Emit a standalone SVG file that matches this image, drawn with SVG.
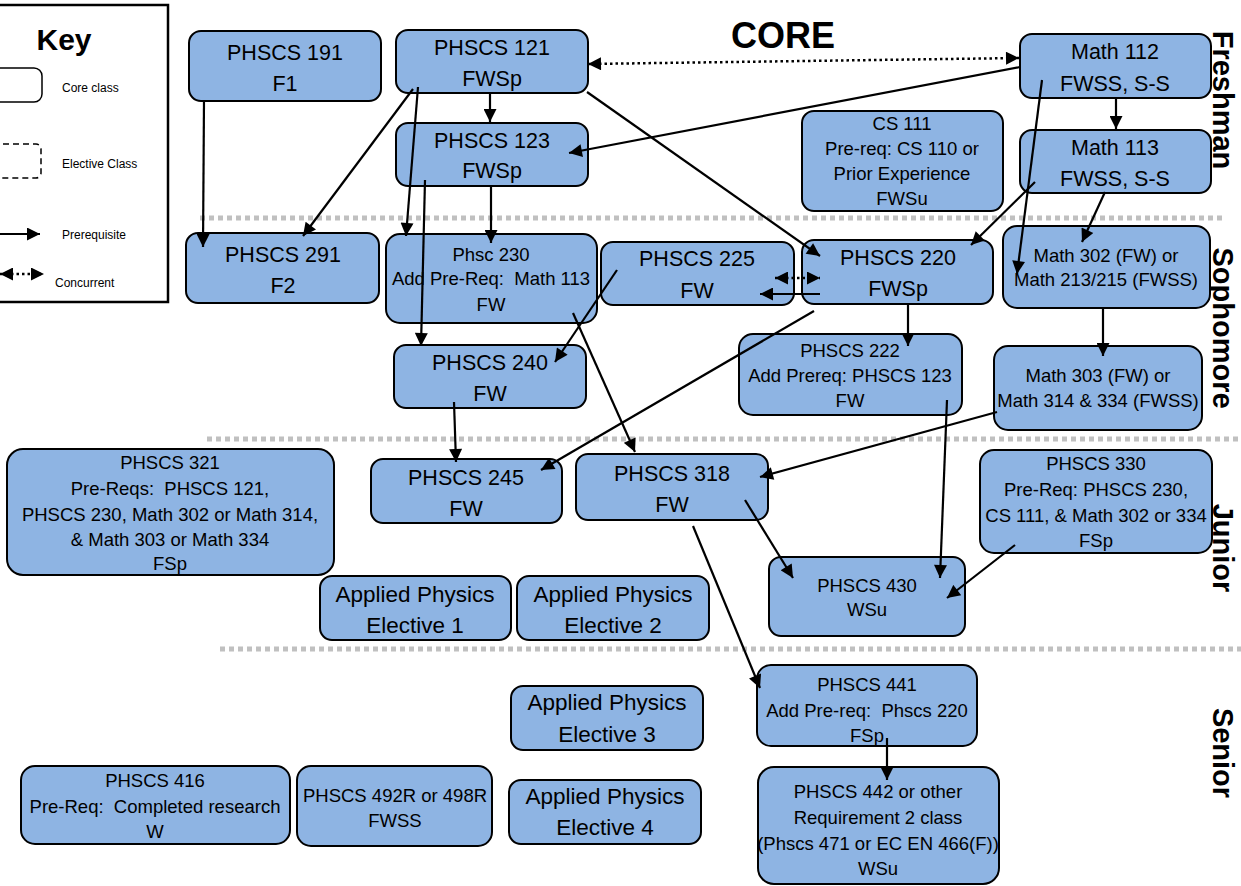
<svg xmlns="http://www.w3.org/2000/svg" width="1241" height="886" viewBox="0 0 1241 886">
<style>
.n rect{fill:#8eb4e3;stroke:#000;stroke-width:2}
text{font-family:"Liberation Sans",Arial,sans-serif;fill:#000}
.n text{text-anchor:middle}
.b{font-size:21.5px}
.ap{font-size:22.5px}
.s{font-size:18.5px}
.sep{stroke:#c0c0c0;stroke-width:5;stroke-dasharray:5 4;fill:none}
.c line{stroke:#000;stroke-width:2.2;fill:none}
.c .d{stroke-dasharray:2.5 3;stroke-width:2.5}
.side{font-size:29px;font-weight:bold;text-anchor:middle}
</style>
<defs>
<marker id="a" viewBox="0 0 10 10" refX="10" refY="5" markerWidth="15" markerHeight="13" markerUnits="userSpaceOnUse" orient="auto-start-reverse">
<path d="M0,0 L10,5 L0,10 z" fill="#000"/>
</marker>
</defs>
<rect width="1241" height="886" fill="#fff"/>

<g id="key">
<rect x="-2" y="5" width="170" height="297" fill="#fff" stroke="#000" stroke-width="2.5"/>
<text x="64" y="50" font-size="30" font-weight="bold" text-anchor="middle">Key</text>
<rect x="-12" y="68" width="54" height="34" rx="8" fill="none" stroke="#000" stroke-width="1.5"/>
<text x="62" y="92" font-size="12">Core class</text>
<rect x="-12" y="144" width="53" height="34" rx="5" fill="none" stroke="#000" stroke-width="1.5" stroke-dasharray="6 4"/>
<text x="62" y="168" font-size="12">Elective Class</text>
<line x1="0" y1="234" x2="40" y2="234" stroke="#000" stroke-width="2" marker-end="url(#a)"/>
<text x="62" y="239" font-size="12">Prerequisite</text>
<line x1="0" y1="274" x2="44" y2="274" stroke="#000" stroke-width="2.5" stroke-dasharray="2.5 3" marker-start="url(#a)" marker-end="url(#a)"/>
<text x="55" y="287" font-size="12">Concurrent</text>
</g>

<g id="titles">
<text x="783" y="48" font-size="36" font-weight="bold" text-anchor="middle">CORE</text>
<text class="side" transform="translate(1213,100) rotate(90)">Freshman</text>
<text class="side" transform="translate(1213,328) rotate(90)">Sophomore</text>
<text class="side" transform="translate(1213,548) rotate(90)">Junior</text>
<text class="side" transform="translate(1213,753) rotate(90)">Senior</text>
</g>

<g id="separators">
<line class="sep" x1="200" y1="218" x2="1226" y2="218"/>
<line class="sep" x1="207" y1="439" x2="1241" y2="439"/>
<line class="sep" x1="220" y1="649" x2="1241" y2="649"/>
</g>

<g id="n191" class="n"><rect x="189" y="31" width="192" height="70" rx="12"/><text class="b" x="285" y="60">PHSCS 191</text><text class="b" x="285" y="91">F1</text></g>
<g id="n121" class="n"><rect x="396" y="30" width="192" height="63" rx="12"/><text class="b" x="492" y="55">PHSCS 121</text><text class="b" x="492" y="86">FWSp</text></g>
<g id="n123" class="n"><rect x="396" y="123" width="192" height="63" rx="12"/><text class="b" x="492" y="148">PHSCS 123</text><text class="b" x="492" y="178">FWSp</text></g>
<g id="m112" class="n"><rect x="1020" y="34" width="191" height="64" rx="12"/><text class="b" x="1115" y="59">Math 112</text><text class="b" x="1115" y="91">FWSS, S-S</text></g>
<g id="m113" class="n"><rect x="1020" y="130" width="191" height="63" rx="12"/><text class="b" x="1115" y="155">Math 113</text><text class="b" x="1115" y="186">FWSS, S-S</text></g>
<g id="cs111" class="n"><rect x="802" y="111" width="201" height="100" rx="12"/><text class="s" x="902" y="130">CS 111</text><text class="s" x="902" y="155">Pre-req: CS 110 or</text><text class="s" x="902" y="180">Prior Experience</text><text class="s" x="902" y="205">FWSu</text></g>
<g id="n291" class="n"><rect x="186" y="233" width="193" height="70" rx="12"/><text class="b" x="283" y="262">PHSCS 291</text><text class="b" x="283" y="293">F2</text></g>
<g id="n230" class="n"><rect x="386" y="234" width="211" height="89" rx="14"/><text class="s" x="491" y="261">Phsc 230</text><text class="s" x="491" y="285">Add Pre-Req: &#160;Math 113</text><text class="s" x="491" y="311">FW</text></g>
<g id="n225" class="n"><rect x="601" y="242" width="193" height="63" rx="12"/><text class="b" x="697" y="266">PHSCS 225</text><text class="b" x="697" y="298">FW</text></g>
<g id="n220" class="n"><rect x="802" y="240" width="191" height="64" rx="12"/><text class="b" x="898" y="265">PHSCS 220</text><text class="b" x="898" y="296">FWSp</text></g>
<g id="m302" class="n"><rect x="1003" y="226" width="207" height="82" rx="14"/><text class="s" x="1106" y="262">Math 302 (FW) or</text><text class="s" x="1106" y="286">Math 213/215 (FWSS)</text></g>
<g id="n240" class="n"><rect x="394" y="345" width="192" height="63" rx="12"/><text class="b" x="490" y="370">PHSCS 240</text><text class="b" x="490" y="401">FW</text></g>
<g id="n222" class="n"><rect x="739" y="334" width="223" height="81" rx="14"/><text class="s" x="850" y="357">PHSCS 222</text><text class="s" x="850" y="382">Add Prereq: PHSCS 123</text><text class="s" x="850" y="407">FW</text></g>
<g id="m303" class="n"><rect x="994" y="346" width="208" height="84" rx="14"/><text class="s" x="1098" y="382">Math 303 (FW) or</text><text class="s" x="1098" y="407">Math 314 &amp; 334 (FWSS)</text></g>
<g id="n321" class="n"><rect x="7" y="449" width="327" height="126" rx="16"/><text class="s" x="170" y="469">PHSCS 321</text><text class="s" x="170" y="495">Pre-Reqs: &#160;PHSCS 121,</text><text class="s" x="170" y="521">PHSCS 230, Math 302 or Math 314,</text><text class="s" x="170" y="546">&amp; Math 303 or Math 334</text><text class="s" x="170" y="570">FSp</text></g>
<g id="n245" class="n"><rect x="371" y="459" width="191" height="64" rx="12"/><text class="b" x="466" y="485">PHSCS 245</text><text class="b" x="466" y="516">FW</text></g>
<g id="n318" class="n"><rect x="576" y="454" width="192" height="66" rx="12"/><text class="b" x="672" y="481">PHSCS 318</text><text class="b" x="672" y="512">FW</text></g>
<g id="n330" class="n"><rect x="980" y="450" width="232" height="103" rx="14"/><text class="s" x="1096" y="470">PHSCS 330</text><text class="s" x="1096" y="496">Pre-Req: PHSCS 230,</text><text class="s" x="1096" y="522">CS 111, &amp; Math 302 or 334</text><text class="s" x="1096" y="547">FSp</text></g>
<g id="n430" class="n"><rect x="769" y="557" width="196" height="79" rx="12"/><text class="s" x="867" y="592">PHSCS 430</text><text class="s" x="867" y="616">WSu</text></g>
<g id="ap1" class="n"><rect x="320" y="576" width="191" height="64" rx="12"/><text class="ap" x="415" y="602">Applied Physics</text><text class="ap" x="415" y="633">Elective 1</text></g>
<g id="ap2" class="n"><rect x="517" y="576" width="192" height="64" rx="12"/><text class="ap" x="613" y="602">Applied Physics</text><text class="ap" x="613" y="633">Elective 2</text></g>
<g id="ap3" class="n"><rect x="511" y="686" width="192" height="64" rx="12"/><text class="ap" x="607" y="710">Applied Physics</text><text class="ap" x="607" y="742">Elective 3</text></g>
<g id="ap4" class="n"><rect x="509" y="780" width="192" height="64" rx="12"/><text class="ap" x="605" y="804">Applied Physics</text><text class="ap" x="605" y="835">Elective 4</text></g>
<g id="n441" class="n"><rect x="757" y="665" width="220" height="81" rx="14"/><text class="s" x="867" y="691">PHSCS 441</text><text class="s" x="867" y="717">Add Pre-req: &#160;Phscs 220</text><text class="s" x="867" y="742">FSp</text></g>
<g id="n442" class="n"><rect x="758" y="767" width="241" height="117" rx="16"/><text class="s" x="878" y="798">PHSCS 442 or other</text><text class="s" x="878" y="824">Requirement 2 class</text><text class="s" x="878" y="850">(Phscs 471 or EC EN 466(F))</text><text class="s" x="878" y="875">WSu</text></g>
<g id="n416" class="n"><rect x="21" y="766" width="269" height="78" rx="14"/><text class="s" x="155" y="787">PHSCS 416</text><text class="s" x="155" y="813">Pre-Req: &#160;Completed research</text><text class="s" x="155" y="838">W</text></g>
<g id="n492" class="n"><rect x="297" y="766" width="195" height="80" rx="14"/><text class="s" x="395" y="802">PHSCS 492R or 498R</text><text class="s" x="395" y="827">FWSS</text></g>

<g id="connectors" class="c">
<line class="d" x1="588" y1="64" x2="1019" y2="58" marker-start="url(#a)" marker-end="url(#a)"/>
<line x1="1020" y1="67" x2="569" y2="153" marker-end="url(#a)"/>
<line x1="490" y1="92" x2="490" y2="122" marker-end="url(#a)"/>
<line x1="413" y1="89" x2="303" y2="236" marker-end="url(#a)"/>
<line x1="418" y1="87" x2="406" y2="236" marker-end="url(#a)"/>
<line x1="491" y1="186" x2="491" y2="243" marker-end="url(#a)"/>
<line x1="425" y1="180" x2="421" y2="346" marker-end="url(#a)"/>
<line x1="587" y1="92" x2="820" y2="256" marker-end="url(#a)"/>
<line x1="204" y1="100" x2="203" y2="247" marker-end="url(#a)"/>
<line x1="1116" y1="98" x2="1116" y2="129" marker-end="url(#a)"/>
<line x1="1042" y1="80" x2="1017" y2="274" marker-end="url(#a)"/>
<line x1="1035" y1="182" x2="971" y2="245" marker-end="url(#a)"/>
<line x1="1105" y1="192" x2="1082" y2="242" marker-end="url(#a)"/>
<line x1="1103" y1="308" x2="1103" y2="356" marker-end="url(#a)"/>
<line class="d" x1="775" y1="278" x2="820" y2="278" marker-start="url(#a)" marker-end="url(#a)"/>
<line x1="820" y1="294" x2="760" y2="294" marker-end="url(#a)"/>
<line x1="617" y1="270" x2="555" y2="362" marker-end="url(#a)"/>
<line x1="573" y1="313" x2="635" y2="452" marker-end="url(#a)"/>
<line x1="908" y1="304" x2="908" y2="346" marker-end="url(#a)"/>
<line x1="814" y1="311" x2="541" y2="470" marker-end="url(#a)"/>
<line x1="454" y1="402" x2="456" y2="462" marker-end="url(#a)"/>
<line x1="947" y1="400" x2="940" y2="578" marker-end="url(#a)"/>
<line x1="997" y1="412" x2="760" y2="477" marker-end="url(#a)"/>
<line x1="745" y1="500" x2="793" y2="578" marker-end="url(#a)"/>
<line x1="1015" y1="545" x2="947" y2="598" marker-end="url(#a)"/>
<line x1="693" y1="526" x2="760" y2="688" marker-end="url(#a)"/>
<line x1="887" y1="738" x2="887" y2="780" marker-end="url(#a)"/>
</g>
</svg>
